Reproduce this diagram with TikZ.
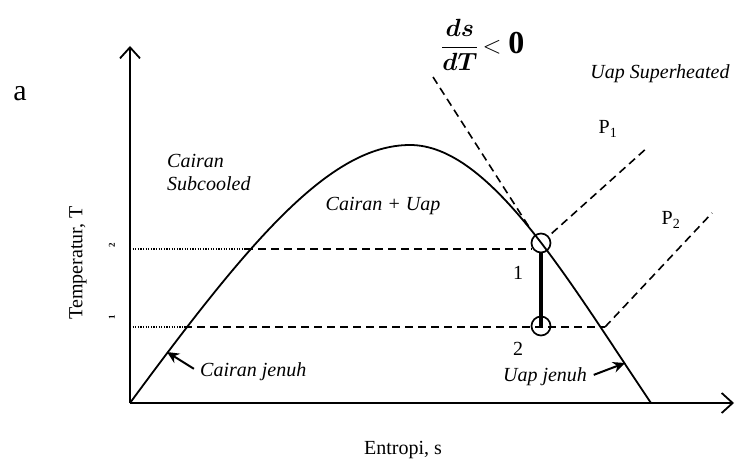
\documentclass[tikz,border=0pt]{standalone}
\usepackage{amsmath,bm}
\usepackage{fontspec}
\setmainfont{Liberation Serif}
\usetikzlibrary{arrows.meta,positioning}
\tikzset{
  ax/.style   = {line width=1.8pt, -{Straight Barb[length=11pt,width=20pt,line width=1.8pt]}},
  dome/.style = {line width=1.8pt},
  iso/.style  = {line width=1.6pt, dash pattern=on 8pt off 5pt},
  lead/.style = {line width=1.5pt, dash pattern=on 1.2pt off 1.4pt},
  reg/.style  = {font=\fontsize{20}{23}\selectfont\itshape, align=left, inner sep=1pt},
  lbl/.style  = {font=\fontsize{20}{23}\selectfont, inner sep=1pt},
  tck/.style  = {font=\fontsize{9}{10}\selectfont\bfseries, inner sep=1pt, rotate=90},
  stt/.style  = {circle, draw, line width=1.7pt, minimum size=19pt, inner sep=0pt},
  pnt/.style  = {-{Stealth[length=12pt,width=11pt]}, line width=2pt},
}
\begin{document}
\begin{tikzpicture}[x=1pt,y=-1pt]
  \useasboundingbox (0,0) rectangle (738,462);
  % axes
  \coordinate (O) at (130,403);
  \coordinate (ymax) at (130,46);
  \coordinate (xmax) at (734,403);
  \draw[ax] (O) -- (ymax);
  \draw[ax] (O) -- (xmax);

  % saturation dome
  \coordinate (top) at (410,145);
  \coordinate (send) at (651,403);
  \draw[dome] (O) .. controls (250,240) and (330,145) .. (top)
                  .. controls (490,145) and (568,280) .. (send);

  % states
  \node[stt] (st1) at (541,243) {};
  \node[stt] (st2) at (541,326) {};
  \draw[line width=3.4pt] (st1.south) -- (st2.center);

  \coordinate (y2) at (130,249);
  \coordinate (y1) at (130,327);
  \coordinate (l2) at (245,249);
  \coordinate (l1) at (184,327);
  \coordinate (r2) at (532,249);
  \coordinate (sv2) at (605,327);
  \draw[lead] (y2) -- (l2);
  \draw[lead] (y1) -- (l1);
  \draw[iso] (l2) -- (r2);
  \draw[iso] (l1) -- (sv2);

  % isobars and slope line
  \coordinate (slp) at (433,77);
  \coordinate (slpe) at (531,230);
  \coordinate (p1e) at (648,147);
  \coordinate (p2e) at (712,213);
  \draw[iso] (slp) -- (slpe);
  \draw[iso, shorten <=4pt] (st1) -- (p1e);
  \draw[iso] (sv2) -- (p2e);

  % labels
  \node[font=\fontsize{30}{32}\selectfont] (a) at (20,94) {a};
  \node[font=\fontsize{24}{28}\selectfont, inner sep=0pt, anchor=west] (ds) at (441,45)
    {$\displaystyle\frac{\bm{ds}}{\bm{dT}}$\,{\fontsize{32}{34}\selectfont$<\mathbf{0}$}};
  \node[reg] (sup) at (660,74) {Uap Superheated};
  \node[lbl] (P1) at (608,129) {P\textsubscript{1}};
  \node[lbl] (P2) at (671,220) {P\textsubscript{2}};
  \node[reg, anchor=west] (sub) at (166,172) {Cairan\\Subcooled};
  \node[reg] (two) at (383,206) {Cairan + Uap};
  \node[lbl] (n1) at (518,273) {1};
  \node[lbl] (n2) at (518,349) {2};
  \node[reg] (uj) at (545,377) {Uap jenuh};
  \node[reg, anchor=west] (cj) at (199,372) {Cairan jenuh};
  \node[lbl] (ent) at (403,450) {Entropi, s};
  \node[lbl, rotate=90] (temp) at (78,263) {Temperatur, T};
  \node[tck] (t2) at (112,245) {2};
  \node[tck] (t1) at (112,317) {1};

  \coordinate (cjt) at (167,352);
  \coordinate (ujt) at (625,363);
  \draw[pnt, shorten <=6pt] (cj.west) -- (cjt);
  \draw[pnt, shorten <=6pt] (uj.east) -- (ujt);
\end{tikzpicture}
\end{document}
